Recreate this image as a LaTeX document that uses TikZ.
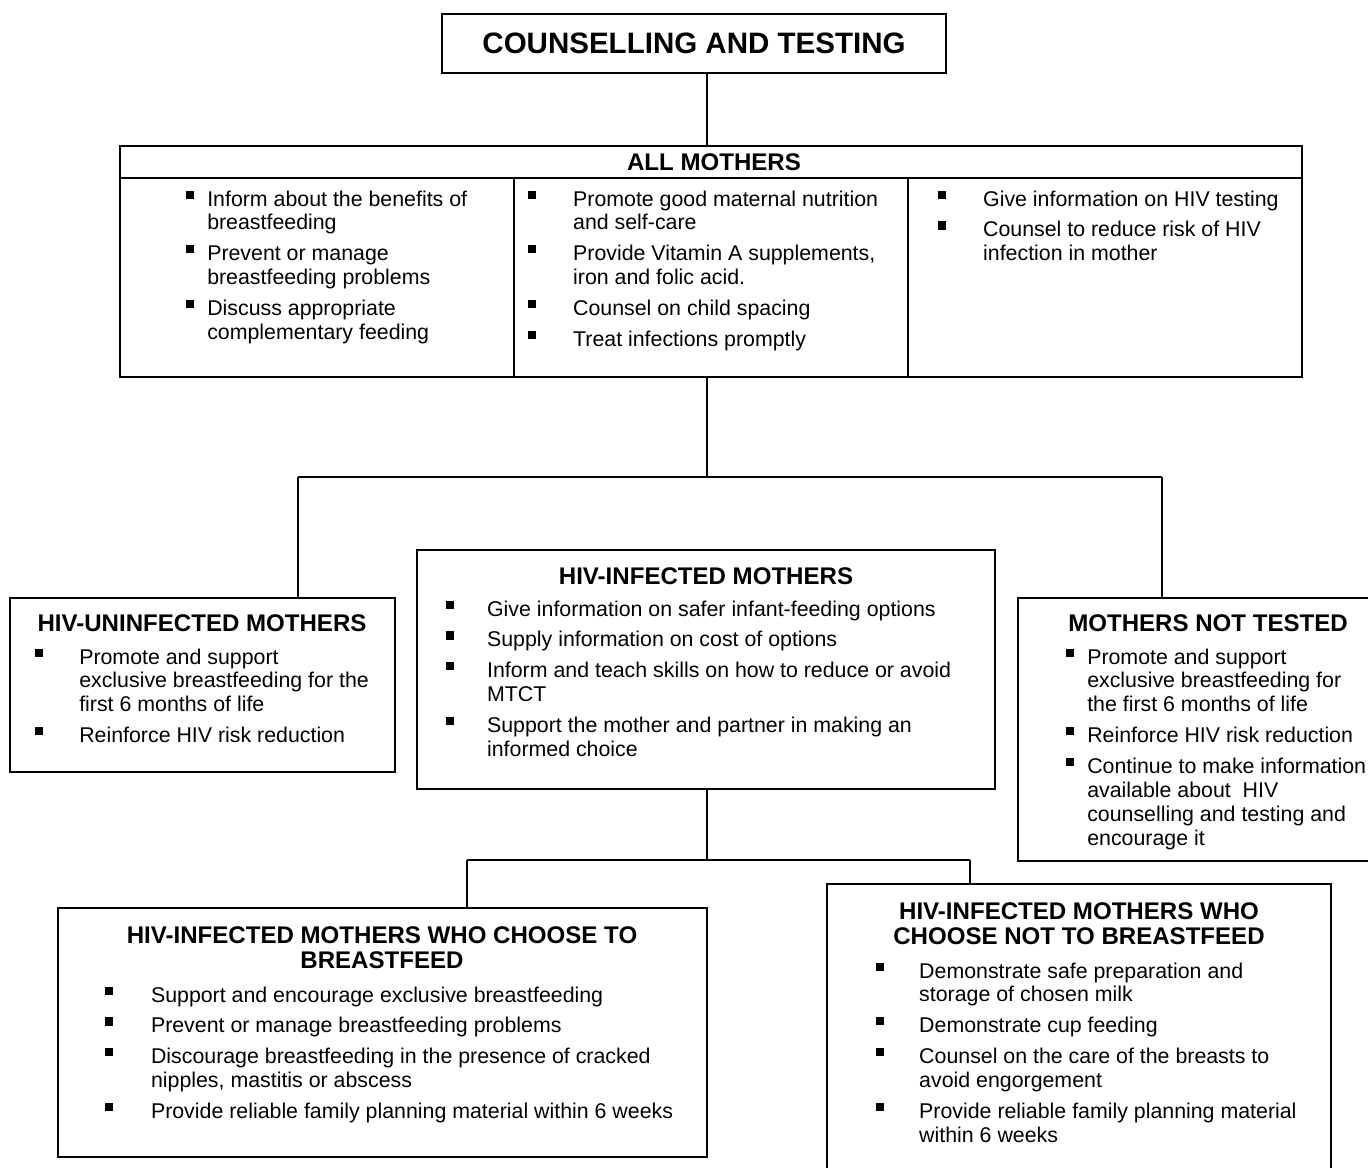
\documentclass[tikz,border=0pt]{standalone}
\usepackage{fontspec}
\setmainfont{Liberation Sans}
\usetikzlibrary{positioning}

\newcommand\bsq{\raisebox{4.2pt}{\rule{4.6pt}{4.6pt}}}
\newcommand\blist[2]{\begin{tabular}[t]{@{}p{#1}@{}l@{}}#2\end{tabular}}

\tikzset{
  box/.style={draw, line width=0.8pt, rectangle, inner sep=0pt},
  link/.style={draw, line width=0.8pt},
  head/.style={font=\bfseries\fontsize{13.7}{14.2}\selectfont, align=center, anchor=base, inner sep=0pt},
  items/.style={font=\fontsize{12.15}{13.6}\selectfont, anchor=base west, inner sep=0pt}
}

\begin{document}
\begin{tikzpicture}[x=0.02cm, y=-0.02cm]
    \useasboundingbox (0,0) rectangle (1368,1167);
    \clip (0,0) rectangle (1368,1167);

    \node[box, minimum width=10.08cm, minimum height=1.18cm,
          font=\bfseries\fontsize{16.8}{18}\selectfont] (ct) at (694,43.5) {COUNSELLING AND TESTING};
    \node[box, line width=1.1pt, minimum width=23.64cm, minimum height=4.62cm] (all) at (711,261.5) {};
    \node[box, minimum width=7.7cm, minimum height=3.48cm] (uninf) at (202.5,685) {};
    \node[box, minimum width=11.56cm, minimum height=4.78cm] (inf) at (706,669.5) {};
    \node[box, minimum width=7.24cm, minimum height=5.26cm] (nt) at (1199,729.5) {};
    \node[box, minimum width=12.98cm, minimum height=4.98cm] (cb) at (382.5,1032.5) {};
    \node[box, minimum width=10.08cm, minimum height=6.12cm] (nb) at (1079,1037) {};

    \draw[line width=1.1pt] (all.west |- 0,178) -- (all.east |- 0,178);
    \draw[line width=1.1pt] (514,178) -- (all.south -| 514,0);
    \draw[line width=1.1pt] (908,178) -- (all.south -| 908,0);

    \coordinate (j1) at (707,477);
    \coordinate (jl) at (298,477);
    \coordinate (jr) at (1162,477);
    \coordinate (j2) at (707,860);
    \coordinate (kl) at (467,860);
    \coordinate (kr) at (970,860);

    \draw[link] (ct.south -| j1) -- (all.north -| j1);
    \draw[link] (all.south -| j1) -- (j1);
    \draw[link] (jl) -- (jr);
    \draw[link] (jl) -- (uninf.north -| jl);
    \draw[link] (jr) -- (nt.north -| jr);
    \draw[link] (inf.south -| j2) -- (j2);
    \draw[link] (kl) -- (kr);
    \draw[link] (kl) -- (cb.north -| kl);
    \draw[link] (kr) -- (nb.north -| kr);

    \node[head] (allhd) at (714,170) {ALL MOTHERS};
    \node[items] (all1) at (186,206) {\blist{11.9pt}{%
      \bsq & Inform about the benefits of\\ & breastfeeding\\[4pt]
      \bsq & Prevent or manage\\ & breastfeeding problems\\[4pt]
      \bsq & Discuss appropriate\\ & complementary feeding}};
    \node[items] (all2) at (528,206) {\blist{25.5pt}{%
      \bsq & Promote good maternal nutrition\\ & and self-care\\[4pt]
      \bsq & Provide Vitamin A supplements,\\ & iron and folic acid.\\[4pt]
      \bsq & Counsel on child spacing\\[4pt]
      \bsq & Treat infections promptly}};
    \node[items] (all3) at (938,206) {\blist{25.5pt}{%
      \bsq & Give information on HIV testing\\[4pt]
      \bsq & Counsel to reduce risk of HIV\\ & infection in mother}};

    \node[head] (uninfhd) at (202,631) {HIV-UNINFECTED MOTHERS};
    \node[items] (uninf1) at (35,664) {\blist{25pt}{%
      \bsq & Promote and support\\ & exclusive breastfeeding for the\\ & first 6 months of life\\[4pt]
      \bsq & Reinforce HIV risk reduction}};

    \node[head] (infhd) at (706,584) {HIV-INFECTED MOTHERS};
    \node[items] (inf1) at (446,616) {\blist{23.2pt}{%
      \bsq & Give information on safer infant-feeding options\\[4pt]
      \bsq & Supply information on cost of options\\[4pt]
      \bsq & Inform and teach skills on how to reduce or avoid\\ & MTCT\\[4pt]
      \bsq & Support the mother and partner in making an\\ & informed choice}};

    \node[head] (nthd) at (1208,631) {MOTHERS NOT TESTED};
    \node[items] (nt1) at (1066,664) {\blist{11.9pt}{%
      \bsq & Promote and support\\ & exclusive breastfeeding for\\ & the first 6 months of life\\[4pt]
      \bsq & Reinforce HIV risk reduction\\[4pt]
      \bsq & Continue to make information\\ & available about \ HIV\\ & counselling and testing and\\ & encourage it}};

    \node[head] (cbhd) at (382,968) {HIV-INFECTED MOTHERS WHO CHOOSE TO\\BREASTFEED};
    \node[items] (cb1) at (105,1002) {\blist{26pt}{%
      \bsq & Support and encourage exclusive breastfeeding\\[4pt]
      \bsq & Prevent or manage breastfeeding problems\\[4pt]
      \bsq & Discourage breastfeeding in the presence of cracked\\ & nipples, mastitis or abscess\\[4pt]
      \bsq & Provide reliable family planning material within 6 weeks}};

    \node[head] (nbhd) at (1079,944) {HIV-INFECTED MOTHERS WHO\\CHOOSE NOT TO BREASTFEED};
    \node[items] (nb1) at (876,978) {\blist{24.4pt}{%
      \bsq & Demonstrate safe preparation and\\ & storage of chosen milk\\[4pt]
      \bsq & Demonstrate cup feeding\\[4pt]
      \bsq & Counsel on the care of the breasts to\\ & avoid engorgement\\[4pt]
      \bsq & Provide reliable family planning material\\ & within 6 weeks}};
\end{tikzpicture}
\end{document}
